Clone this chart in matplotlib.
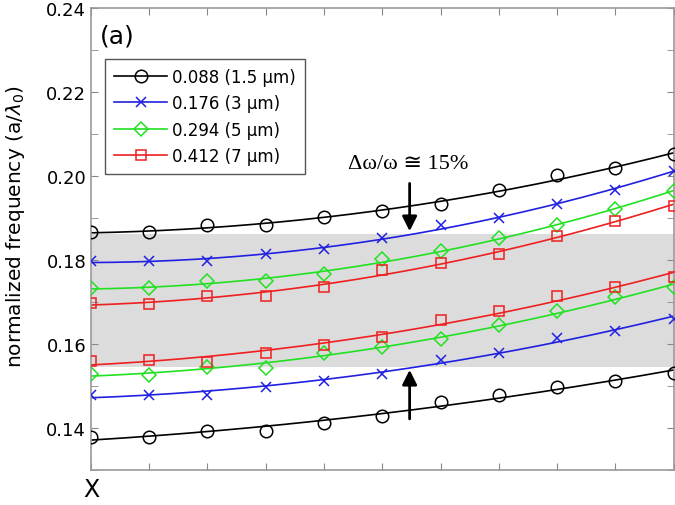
import numpy as np
import matplotlib
matplotlib.use('Agg')
import matplotlib.pyplot as plt
from matplotlib.ticker import MultipleLocator

# band positions along the k-path (X ... )
kpoints = np.arange(11)

# upper / lower band frequencies for each fill factor
black_up = [0.1866, 0.1866, 0.1883, 0.1883, 0.1902, 0.1917, 0.1933, 0.1967, 0.2002, 0.2018, 0.2052]
black_lo = [0.1378, 0.1378, 0.1394, 0.1394, 0.1411, 0.1429, 0.1463, 0.1479, 0.1497, 0.1513, 0.1531]
blue_up = [0.1797, 0.1797, 0.1798, 0.1814, 0.1826, 0.1852, 0.1883, 0.1899, 0.1933, 0.1967, 0.2013]
blue_lo = [0.1479, 0.1479, 0.1479, 0.1497, 0.1513, 0.1529, 0.1563, 0.1579, 0.1614, 0.1632, 0.1660]
green_up = [0.1733, 0.1733, 0.1749, 0.1749, 0.1767, 0.1802, 0.1822, 0.1852, 0.1883, 0.1921, 0.1965]
green_lo = [0.1529, 0.1526, 0.1545, 0.1543, 0.1579, 0.1592, 0.1612, 0.1645, 0.1679, 0.1711, 0.1735]
red_up = [0.1697, 0.1695, 0.1715, 0.1715, 0.1735, 0.1775, 0.1794, 0.1814, 0.1857, 0.1894, 0.1929]
red_lo = [0.1560, 0.1562, 0.1556, 0.1579, 0.1598, 0.1616, 0.1658, 0.1679, 0.1715, 0.1735, 0.1759]

labels = ['0.088 (1.5 \u03bcm)', '0.176 (3 \u03bcm)', '0.294 (5 \u03bcm)', '0.412 (7 \u03bcm)']
gap_top = 0.1862
gap_bottom = 0.1545

series = [
    (black_up, black_lo, 'black', 'o', 9),
    (blue_up, blue_lo, '#2020e0', 'x', 7),
    (green_up, green_lo, '#22e022', 'D', 7.5),
    (red_up, red_lo, '#ee2020', 's', 7.5),
]

fig = plt.figure(figsize=(6.75, 5.06), dpi=100)
ax = fig.add_axes([0.1348, 0.0692, 0.8630, 0.9130])

ax.axhspan(gap_bottom, gap_top, color='#dcdcdc', zorder=0, lw=0)

xs = np.linspace(kpoints[0], kpoints[-1], 200)
for (up, lo, col, mk, ms), lab in zip(series, labels):
    for vals in (up, lo):
        # smooth fitted trend through the computed points
        fit = np.polyval(np.polyfit(kpoints, vals, 2), xs)
        ax.plot(xs, fit, color=col, lw=1.2, zorder=2)
        ax.plot(kpoints, vals, linestyle='none', marker=mk, ms=ms, mfc='none',
                mec=col, mew=1.1, zorder=3)
    # legend proxy
    ax.plot([], [], color=col, lw=1.2, marker=mk, ms=ms, mfc='none', mec=col, mew=1.1, label=lab)

ax.set_xlim(0, 10)
ax.set_ylim(0.13, 0.24)
ax.set_xticks(kpoints)
ax.set_xticklabels(['X'] + [''] * 10)
ax.yaxis.set_major_locator(MultipleLocator(0.02))
ax.yaxis.set_minor_locator(MultipleLocator(0.01))
ax.yaxis.set_major_formatter(matplotlib.ticker.FormatStrFormatter('%.2f'))
ax.tick_params(axis='both', which='both', direction='in', top=True, right=True,
               length=5, color='#888888', labelsize=13)
ax.tick_params(axis='x', pad=5, labelsize=17)
for sp in ax.spines.values():
    sp.set_color('#999999')
    sp.set_linewidth(1.2)

ax.set_ylabel('normalized frequency (a/$\\lambda_0$)', fontsize=14.5, labelpad=0)
ax.yaxis.set_label_coords(-0.11, 0.53)

ax.text(0.015, 0.94, '(a)', transform=ax.transAxes, fontsize=18, va='center', ha='left')

leg = ax.legend(loc='upper left', bbox_to_anchor=(0.024, 0.89), borderaxespad=0,
                fontsize=12, handlelength=3.2, fancybox=False, edgecolor='#555555',
                framealpha=1, labelspacing=0.5, handletextpad=0.3, borderpad=0.55)
leg.get_frame().set_linewidth(1.0)

arrow_x = 5.47
ax.annotate('', xy=(arrow_x, gap_top), xytext=(arrow_x, 0.1989),
            arrowprops=dict(arrowstyle='-|>', color='black', lw=2, mutation_scale=22))
ax.annotate('', xy=(arrow_x, gap_bottom), xytext=(arrow_x, 0.1415),
            arrowprops=dict(arrowstyle='-|>', color='black', lw=2, mutation_scale=22))
ax.text(5.44, 0.2029, '\u0394\u03c9/\u03c9 \u2245 15%', fontsize=16, ha='center', va='center',
        family=['Liberation Serif', 'DejaVu Serif', 'DejaVu Sans'])

fig.savefig('out.png', dpi=100)
